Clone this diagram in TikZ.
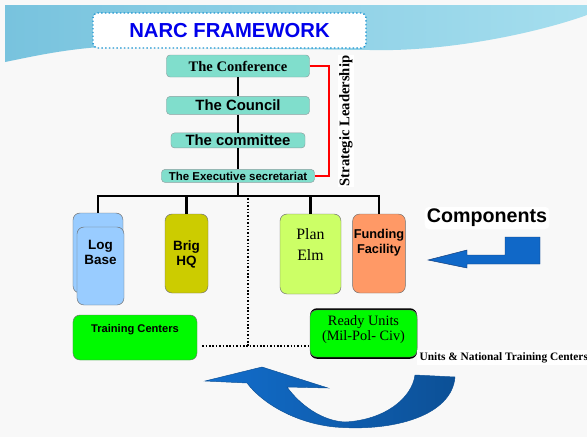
\documentclass[tikz,border=0pt]{standalone}
\usepackage{fontspec}
\setmainfont{Liberation Serif}
\setsansfont{Liberation Sans}
\usetikzlibrary{positioning, shadows}

\definecolor{pagecol}{RGB}{248,248,248}
\definecolor{bannerleft}{RGB}{120,195,222}
\definecolor{bannerright}{RGB}{165,222,238}
\definecolor{titleline}{RGB}{30,150,210}
\definecolor{titleblue}{RGB}{0,0,235}
\definecolor{levelcol}{RGB}{128,222,204}
\definecolor{levelline}{RGB}{140,160,160}
\definecolor{unitline}{RGB}{110,110,110}
\definecolor{logblue}{RGB}{153,204,255}
\definecolor{brigcol}{RGB}{204,204,0}
\definecolor{plancol}{RGB}{204,255,102}
\definecolor{fundcol}{RGB}{255,153,102}
\definecolor{greencol}{RGB}{0,250,0}
\definecolor{arrowblue}{RGB}{16,104,200}
\definecolor{arrowline}{RGB}{20,60,120}
\definecolor{swirlleft}{RGB}{18,110,205}
\definecolor{swirlright}{RGB}{12,80,150}

% two centred lines, baseline on the last one
\newcommand{\twolines}[2]{\begin{tabular}[b]{@{}c@{}}#1\\#2\end{tabular}}

\begin{document}
\begin{tikzpicture} [
	x=0.03cm, y=-0.03cm, % one unit is one pixel of the slide
	level/.style={draw=levelline, fill=levelcol, rounded corners=3pt, inner sep=0pt, minimum width=4.29cm}, % the strategic levels
	unit/.style={draw=unitline, rounded corners=6pt, inner xsep=1pt, inner ysep=0pt}, % the component boxes
	trunk/.style={line width=2.4pt},
	bracket/.style={draw=red, line width=1.6pt},
	dotline/.style={line width=1.3pt, dash pattern=on 1.3pt off 1.6pt},
	]
	\useasboundingbox (0,0) rectangle (587,437);
	\fill[pagecol] (0,0) rectangle (587,437);

	% banner and title
	\shade[left color=bannerleft, right color=bannerright] (5,5) -- (587,5) -- (587,15)
		.. controls (540,32) and (450,52) .. (370,50) -- (100,47)
		.. controls (60,50) and (30,57) .. (5,62) -- cycle;
	\node[draw=titleline, dotted, line width=1.2pt, fill=white, rounded corners=4pt, minimum width=8.19cm, minimum height=1.05cm, text=titleblue, font=\sffamily\bfseries\fontsize{17.3}{20}\selectfont] (title) at (229.5,30.5) {NARC FRAMEWORK};

	% strategic levels
	\node[level, minimum height=0.66cm, font=\rmfamily\bfseries\fontsize{12.4}{14}\selectfont] (conf) at (238,66) {The Conference};
	\node[level, minimum height=0.54cm, below=0.57cm of conf, font=\sffamily\bfseries\fontsize{12.7}{14}\selectfont] (council) {The Council};
	\node[level, minimum width=4.02cm, minimum height=0.45cm, below=0.54cm of council, font=\sffamily\bfseries\fontsize{12.7}{14}\selectfont] (committee) {The committee};
	\node[level, minimum width=4.59cm, minimum height=0.39cm, below=0.63cm of committee, font=\sffamily\bfseries\fontsize{9.8}{11}\selectfont] (exec) {The Executive secretariat};
	\node[rotate=90, fill=white, inner sep=1pt, font=\rmfamily\bfseries\fontsize{12.5}{14}\selectfont] (strat) at (346,121) {Strategic Leadership};

	% components
	\node[unit, fill=logblue, minimum width=1.5cm, minimum height=2.4cm] (logback) at (98,253) {};
	\node[unit, fill=logblue, minimum width=1.41cm, minimum height=2.34cm, text height=1.11cm, text depth=1.23cm, font=\sffamily\bfseries\fontsize{11.5}{12.8}\selectfont] (logfront) at (100.5,266) {\twolines{Log}{Base}};
	\node[unit, fill=brigcol, minimum width=1.29cm, minimum height=2.37cm, text height=1.53cm, text depth=0.84cm, font=\sffamily\bfseries\fontsize{11.5}{12}\selectfont] (brig) at (186.5,253.5) {\twolines{Brig}{HQ}};
	\node[unit, fill=plancol, minimum width=1.83cm, minimum height=2.4cm, text height=1.38cm, text depth=1.02cm, font=\rmfamily\fontsize{13.5}{17.1}\selectfont] (plan) at (310.5,254) {\twolines{Plan}{Elm}};
	\node[unit, fill=fundcol, minimum width=1.56cm, minimum height=2.37cm, text height=1.17cm, text depth=1.2cm, font=\sffamily\bfseries\fontsize{10.9}{12.8}\selectfont] (fund) at (379,253.5) {\twolines{Funding}{Facility}};

	% training and ready units
	\node[unit, fill=greencol, minimum width=3.72cm, minimum height=1.35cm, text height=0.51cm, text depth=0.84cm, font=\sffamily\bfseries\fontsize{9.5}{11}\selectfont] (training) at (135,337.5) {Training Centers};
	\node[unit, fill=greencol, minimum width=3.21cm, minimum height=1.41cm, text height=0.9cm, text depth=0.51cm,
		drop shadow={shadow xshift=0pt, shadow yshift=1.5pt, fill=black, opacity=1},
		drop shadow={shadow xshift=0pt, shadow yshift=-1.5pt, fill=black, opacity=1},
		font=\rmfamily\fontsize{12.2}{12}\selectfont] (ready) at (363.5,333.5) {\twolines{Ready Units}{(Mil-Pol- Civ)}};
	\node[fill=white, anchor=base west, inner sep=2pt, font=\rmfamily\bfseries\fontsize{9.7}{11}\selectfont] (ntc) at (417,360) {Units \& National Training Centers};
	\node[fill=white, rounded corners=4pt, inner sep=2pt, font=\sffamily\bfseries\fontsize{16.8}{20}\selectfont] (comp) at (487,218) {Components};

	% chain of command
	\coordinate (bus) at (238,196);
	\coordinate (join) at (248,346);
	\draw[trunk] (conf) -- (council) (council) -- (committee) (committee) -- (exec) (exec) -- (exec |- bus);
	\draw[trunk] (logback) -- (logback |- bus) -| (fund);
	\draw[trunk] (brig) -- (brig |- bus) (plan) -- (plan |- bus);
	\draw[bracket] (conf.east) -- ++(19,0) |- (exec.east);
	\draw[dotline] ([yshift=-2pt]join |- bus) -- (join);
	\draw[dotline, shorten <=0.15cm, shorten >=0.06cm] (training.east |- join) -- (ready.west |- join);

	% arrows
	\fill[arrowblue, draw=arrowline] (428,260) -- (467,250) -- (467,255) -- (505,255) -- (505,237) -- (540,237) -- (540,264) -- (467,264) -- (467,268) -- cycle;
	\shade[left color=swirlleft, right color=swirlright, draw=swirlright] (455,377)
		.. controls (452,415) and (395,432) .. (335,427)
		.. controls (295,423) and (262,403) .. (247,383) -- (205,381) -- (262,367) -- (328,388) -- (287,387)
		.. controls (300,405) and (322,421) .. (345,422)
		.. controls (385,420) and (412,398) .. (415,375) -- cycle;
\end{tikzpicture}
\end{document}
